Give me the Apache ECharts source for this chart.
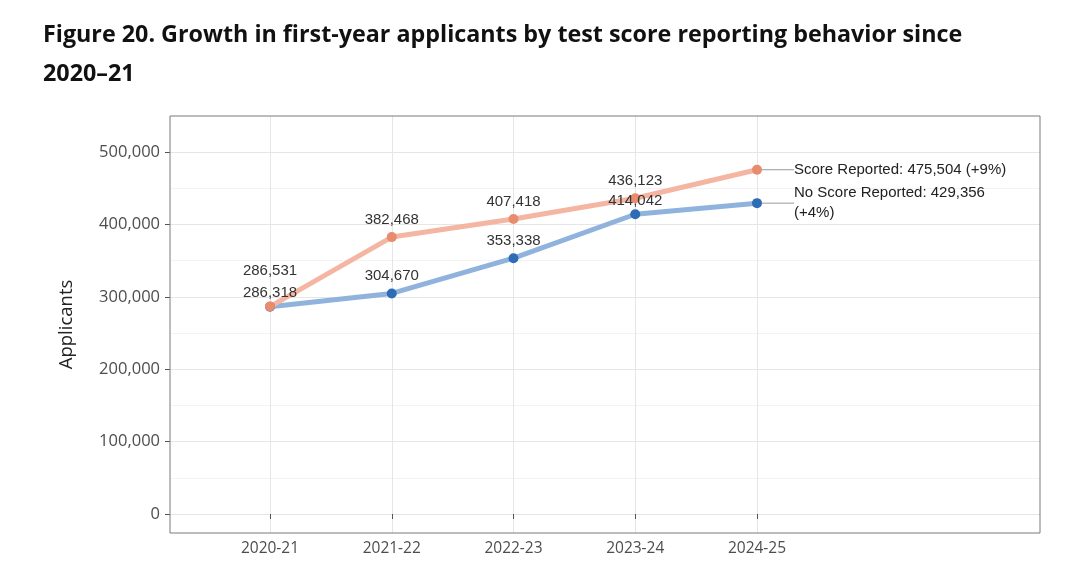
<!DOCTYPE html>
<html><head><meta charset="utf-8">
<script src="https://cdn.jsdelivr.net/npm/echarts@6/dist/echarts.min.js"></script>
<style>html,body{margin:0;padding:0;background:#fff}#c{width:1080px;height:576px}</style>
</head><body><div id="c"></div>
<script>
// ---- data ----
const categories = ['2020-21', '2021-22', '2022-23', '2023-24', '2024-25'];
const scoreReported = [286531, 382468, 407418, 436123, 475504];
const noScoreReported = [286318, 304670, 353338, 414042, 429356];
const yTicks = [0, 100000, 200000, 300000, 400000, 500000];
const seriesNames = ['Score Reported', 'No Score Reported'];
const endChange = ['+9%', '+4%'];
const titleText = 'Figure 20. Growth in first-year applicants by test score reporting behavior since\n2020\u201321';
const yAxisTitle = 'Applicants';

// ---- layout (pixels) ----
const frame = { left: 170, right: 1040, top: 116, bottom: 533 };
const yPix = { zero: 514, top: 152 };       // pixel rows of first / last y tick
const xPix = { first: 270, last: 757 };     // pixel columns of first / last category
const W = 1080, H = 576;

const yMinTick = yTicks[0], yMaxTick = yTicks[yTicks.length - 1];
const pxPerUnit = (yPix.zero - yPix.top) / (yMaxTick - yMinTick);
const dataMin = yMinTick - (frame.bottom - yPix.zero) / pxPerUnit;
const dataMax = yMaxTick + (yPix.top - frame.top) / pxPerUnit;

const fmt = v => v.toLocaleString('en-US');
const labelColor = '#333';
const axisColor = '#4d4d4d';
const labelFont = 'Liberation Sans, Arial, sans-serif';

// label nudges (style only): [dx, dy] per series / data index
const labelNudge = [
  { 0: [0, -18], 4: [28, 0] },
  { 0: [0, 3.5], 3: [0, 4.5], 4: [28, 0] }
];

function buildData(values, endText) {
  return values.map((v, i) => {
    const item = { value: v };
    if (i === values.length - 1) {
      item.label = {
        show: true, position: 'right', distance: 4,
        formatter: endText, color: '#222', fontSize: 15,
        fontFamily: labelFont, lineHeight: 20, align: 'left'
      };
      item.labelLine = { show: true, lineStyle: { color: '#9a9a9a', width: 1 } };
    }
    return item;
  });
}
function nudgeFor(si) {
  return p => {
    const n = labelNudge[si][p.dataIndex];
    return n ? { dx: n[0], dy: n[1] } : {};
  };
}

const chart = echarts.init(document.getElementById('c'), null, { renderer: 'canvas' });

const option = {
  backgroundColor: '#fff',
  animation: false,
  title: {
    text: titleText, left: 38, top: 11,
    textStyle: { fontFamily: 'Open Sans, sans-serif', fontWeight: 'bold', fontSize: 23.3, lineHeight: 39, color: '#111' }
  },
  grid: [
    { left: frame.left, right: W - frame.right, top: yPix.top, bottom: H - yPix.zero, show: false },
    { left: xPix.first, right: W - xPix.last, top: frame.top, bottom: H - frame.bottom, show: false },
    { left: frame.left, right: W - frame.right, top: frame.top, bottom: H - frame.bottom, show: true,
      borderColor: '#7a7a7a', borderWidth: 1, backgroundColor: 'transparent', z: 5 }
  ],
  xAxis: [
    { gridIndex: 0, type: 'value', show: false, min: 0, max: 1 },
    { gridIndex: 1, type: 'category', data: categories, boundaryGap: false,
      axisLine: { show: false },
      axisTick: { show: true, length: 5, lineStyle: { color: '#555' } },
      axisLabel: { color: axisColor, fontSize: 15.5, margin: 8, fontFamily: 'Open Sans, sans-serif' },
      splitLine: { show: true, lineStyle: { color: '#e6e6e6', width: 1 } } },
    { gridIndex: 2, type: 'value', show: false, min: 0, max: 1 }
  ],
  yAxis: [
    { gridIndex: 0, type: 'value', min: yMinTick, max: yMaxTick, interval: yTicks[1] - yTicks[0],
      axisLine: { show: false },
      axisTick: { show: true, length: 5, lineStyle: { color: '#555' } },
      axisLabel: { color: axisColor, fontSize: 16.5, margin: 10, formatter: v => fmt(v), fontFamily: 'Open Sans, sans-serif' },
      splitLine: { show: true, lineStyle: { color: '#e6e6e6', width: 1 } },
      minorTick: { show: false, splitNumber: 2 },
      minorSplitLine: { show: true, lineStyle: { color: '#f3f3f3', width: 1 } } },
    { gridIndex: 1, type: 'value', min: dataMin, max: dataMax, show: false },
    { gridIndex: 2, type: 'value', min: 0, max: 1,
      axisLine: { show: false }, axisTick: { show: false }, axisLabel: { show: false }, splitLine: { show: false },
      name: yAxisTitle, nameLocation: 'middle', nameGap: 94,
      nameTextStyle: { fontSize: 18.5, color: '#222', fontFamily: 'Open Sans, sans-serif' } }
  ],
  series: [
    { name: seriesNames[1], type: 'line', xAxisIndex: 1, yAxisIndex: 1,
      data: buildData(noScoreReported, seriesNames[1] + ': ' + fmt(noScoreReported[4]) + '\n(' + endChange[1] + ')'),
      symbol: 'circle', symbolSize: 10,
      lineStyle: { color: '#8fb3dd', width: 5 },
      itemStyle: { color: '#2e6cb5' },
      label: { show: true, position: 'top', distance: 5, color: labelColor, fontSize: 15,
               fontFamily: labelFont, formatter: p => fmt(p.value) },
      labelLayout: nudgeFor(1),
      z: 3 },
    { name: seriesNames[0], type: 'line', xAxisIndex: 1, yAxisIndex: 1,
      data: buildData(scoreReported, seriesNames[0] + ': ' + fmt(scoreReported[4]) + ' (' + endChange[0] + ')'),
      symbol: 'circle', symbolSize: 10,
      lineStyle: { color: '#f4b6a2', width: 5 },
      itemStyle: { color: '#e98b6d' },
      label: { show: true, position: 'top', distance: 5, color: labelColor, fontSize: 15,
               fontFamily: labelFont, formatter: p => fmt(p.value) },
      labelLayout: nudgeFor(0),
      z: 3 }
  ]
};
chart.setOption(option);
</script></body></html>
